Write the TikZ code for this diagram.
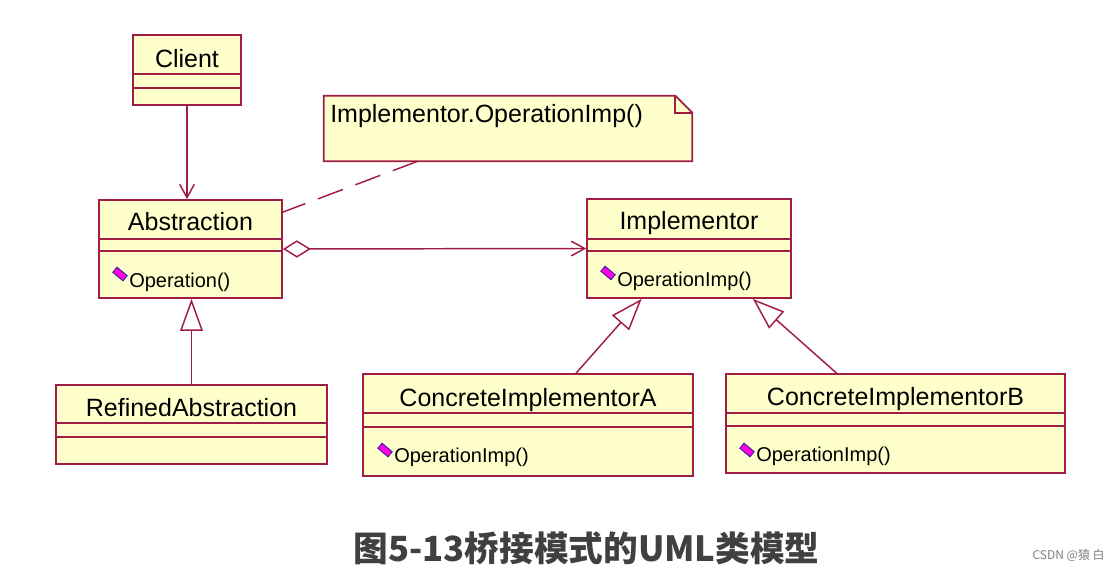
\documentclass[tikz,border=0pt]{standalone}
\usepackage{fontspec}
\setmainfont{Liberation Sans}
\newfontfamily\cjk{Noto Sans CJK SC}
\usetikzlibrary{arrows.meta,fit,calc}
\definecolor{umlred}{HTML}{A01E46}
\definecolor{umlfill}{HTML}{FFFFCC}
\definecolor{captiongray}{HTML}{404040}
\definecolor{iconmag}{HTML}{FF00E0}
\definecolor{iconblue}{HTML}{2020A0}
\begin{document}
\begin{tikzpicture}[x=0.75pt,y=-0.75pt,
  cls/.style={draw=umlred, fill=umlfill, line width=1.3pt, inner sep=0pt},
  div/.style={draw=umlred, line width=1.3pt},
  cname/.style={anchor=base, inner sep=0pt, font=\fontsize{18.75pt}{22pt}\selectfont},
  optext/.style={anchor=base west, inner sep=0pt, font=\fontsize{15pt}{18pt}\selectfont},
  opicon/.style={draw=iconblue, fill=iconmag, line width=0.6pt, rotate=-40, minimum width=10pt, minimum height=5pt, inner sep=0pt},
  conn/.style={draw=umlred, line width=1.1pt},
  assoc/.style={conn, -{Straight Barb[length=10pt,width=11pt]}},
  gen/.style={conn, -{Triangle[open,length=24pt,width=17pt,fill=white]}},
  agg/.style={conn, {Diamond[length=21pt,width=13pt,fill=white]}-{Straight Barb[length=10pt,width=11pt]}},
  notelink/.style={conn, dash pattern=on 20pt off 10pt}
]
\useasboundingbox (0,0) rectangle (1120,573);
\fill[white] (0,0) rectangle (1120,573);

% Client
\node[cls, fit={(133,35) (241,105)}] (client) {};
\draw[div] (133,74) -- (241,74);
\draw[div] (133,88) -- (241,88);
\node[cname] (clientname) at (187,68) {Client};

% Abstraction
\node[cls, fit={(99,200) (282,298)}] (abs) {};
\draw[div] (99,239) -- (282,239);
\draw[div] (99,251) -- (282,251);
\node[cname] (absname) at (190.5,231) {Abstraction};
\node[opicon] (absicon) at (120,274) {};
\node[optext] (absop) at (129,288) {Operation()};

% Implementor
\node[cls, fit={(587,199) (791,298)}] (impl) {};
\draw[div] (587,239) -- (791,239);
\draw[div] (587,251) -- (791,251);
\node[cname] (implname) at (689,230) {Implementor};
\node[opicon] (implicon) at (608,273) {};
\node[optext] (implop) at (617,287) {OperationImp()};

% RefinedAbstraction
\node[cls, fit={(56,385) (327,464)}] (ref) {};
\draw[div] (56,423) -- (327,423);
\draw[div] (56,437) -- (327,437);
\node[cname] (refname) at (191.5,416) {RefinedAbstraction};

% ConcreteImplementorA
\node[cls, fit={(363,374) (693,476)}] (conA) {};
\draw[div] (363,413) -- (693,413);
\draw[div] (363,427) -- (693,427);
\node[cname] (conAname) at (528,406) {ConcreteImplementorA};
\node[opicon] (conAicon) at (385,450) {};
\node[optext] (conAop) at (394,462) {OperationImp()};

% ConcreteImplementorB
\node[cls, fit={(726,374) (1065,473)}] (conB) {};
\draw[div] (726,413) -- (1065,413);
\draw[div] (726,426) -- (1065,426);
\node[cname] (conBname) at (895.5,405) {ConcreteImplementorB};
\node[opicon] (conBicon) at (747,450) {};
\node[optext] (conBop) at (756,461) {OperationImp()};

% Note
\node[inner sep=0pt, fit={(324,96) (692,161)}] (note) {};
\draw[cls] (note.north west) -- ([xshift=-12.75pt]note.north east) -- ([yshift=-12.75pt]note.north east) -- (note.south east) -- (note.south west) -- cycle;
\draw[div] ([xshift=-12.75pt]note.north east) |- ([yshift=-12.75pt]note.north east);
\node[anchor=base west, inner sep=0pt, font=\fontsize{18.75pt}{22pt}\selectfont] (notetext) at (330,123) {Implementor.OperationImp()};

% Connectors
\draw[assoc] (client.south) -- (client.south |- abs.north);
\draw[agg] (abs.east) -- (impl.west);
\draw[gen] (ref.north) -- (ref.north |- abs.south);
\draw[gen] ($(conA.north west)!0.645!(conA.north east)$) -- ($(impl.south west)!0.27!(impl.south east)$);
\draw[gen] ($(conB.north west)!0.327!(conB.north east)$) -- ($(impl.south west)!0.81!(impl.south east)$);
\draw[notelink] ($(note.south west)!0.255!(note.south east)$) -- ($(abs.north east)!0.13!(abs.south east)$);

% Caption and watermark
\node[text=captiongray, inner sep=0pt, font=\cjk\bfseries\fontsize{26pt}{30pt}\selectfont] (caption) at (586.5,548) {图5-13桥接模式的UML类模型};
\node[anchor=base east, text=gray, inner sep=0pt, font=\cjk\fontsize{9pt}{11pt}\selectfont] (wm) at (1105,559) {CSDN @猿 白};
\end{tikzpicture}
\end{document}
